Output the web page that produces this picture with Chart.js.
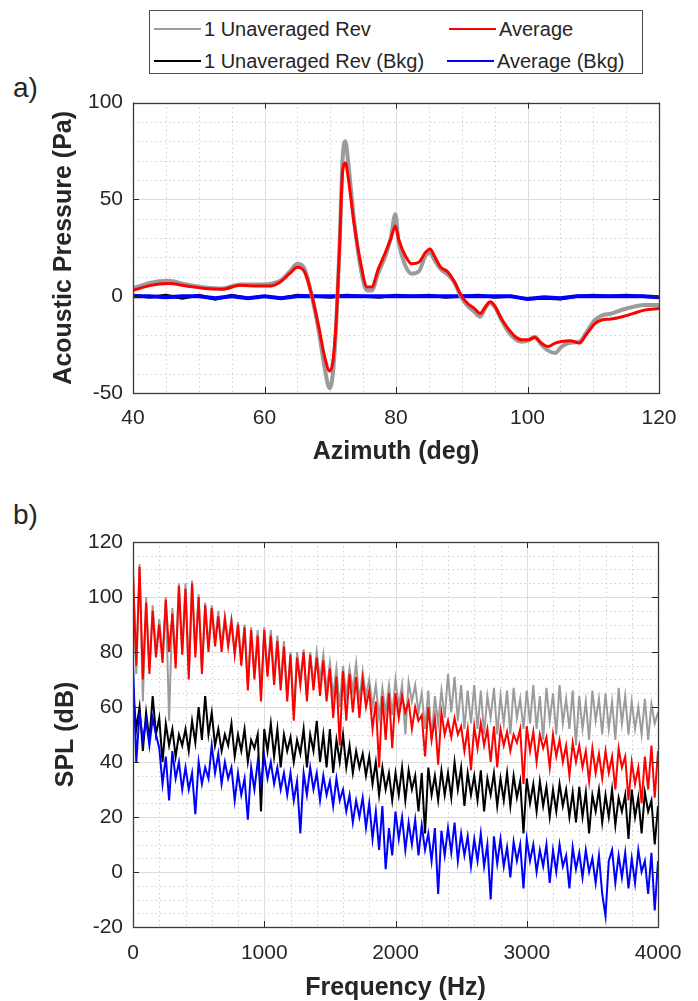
<!DOCTYPE html>
<html>
<head>
<meta charset="utf-8">
<title>Acoustic pressure and SPL</title>
<script src="https://cdn.jsdelivr.net/npm/chart.js@4.4.1/dist/chart.umd.min.js"></script>
<style>
  html, body { margin: 0; padding: 0; background: #fff; }
  body {
    width: 698px; height: 1001px; position: relative; overflow: hidden;
    font-family: "Liberation Sans", Arial, sans-serif; color: #262626;
  }
  canvas { position: absolute; left: 0; }
  #chart-a { top: 80px; }
  #chart-b { top: 480px; }
  .tag { position: absolute; left: 13px; font-size: 28px; line-height: 28px; }
  #legend {
    position: absolute; left: 149px; top: 10px; width: 494px; height: 64px;
    box-sizing: border-box; border: 1.5px solid #4d4d4d; background: #fff;
  }
  .entry {
    position: absolute; height: 22px; display: flex; align-items: center;
    font-size: 20px; white-space: nowrap;
  }
  .entry i { display: inline-block; width: 47px; height: 2px; margin-right: 3px; }
</style>
</head>
<body>
<div id="legend"></div>
<div class="tag" style="top:74px">a)</div>
<div class="tag" style="top:501px">b)</div>
<canvas id="chart-a" width="698" height="400"></canvas>
<canvas id="chart-b" width="698" height="521"></canvas>

<script>
'use strict';

// ── Series labels / colours ───────────────────────────────────
const seriesLabels = ['1 Unaveraged Rev', 'Average', '1 Unaveraged Rev (Bkg)', 'Average (Bkg)'];
const seriesColors = ['#9b9b9b', '#ff0000', '#000000', '#0000ff'];

// ── a) Acoustic pressure vs azimuth ───────────────────────────
const azimuthTicks  = [40, 60, 80, 100, 120];
const pressureTicks = [-50, 0, 50, 100];

const azimuthRev = [40, 42.7, 45.4, 48.1, 50.9, 53.6, 56.3, 59, 61, 62.4,
  63.8, 65, 66.1, 67.2, 68.2, 69.2, 69.9, 70.4, 70.9, 71.4,
  71.9, 72.3, 72.7, 73.6, 74.6, 75.6, 76.3, 77.3, 78.4, 79.2,
  79.9, 80.4, 81.4, 82.4, 83.5, 84.5, 85.2, 85.8, 86.8, 87.9,
  88.9, 89.9, 90.9, 91.9, 92.8, 93.6, 94.3, 95, 96, 97,
  98.1, 99.1, 100.1, 101.1, 102.1, 103.1, 104.2, 105.2, 106.5, 107.9,
  108.9, 110.3, 111.3, 112.7, 114.4, 116.1, 117.8, 120];

const pressureAvg = [3, 5.6, 6.5, 5.3, 4, 3.6, 5.6, 5.3, 5.3, 7.3,
  11.6, 15, 12.5, 0.5, -15, -32, -38.7, -33.6, -13, 24,
  65, 68.8, 62, 38, 17.6, 4.8, 4.8, 14, 22.7, 29.5,
  36.3, 29.5, 21, 16.7, 17.6, 22.7, 24.4, 21, 15, 12.5,
  7.3, 0.5, -3.8, -6.3, -8.9, -5.5, -2.9, -4.9, -11.4, -16.5,
  -20.8, -22.5, -22.5, -21.3, -24.2, -26, -24.2, -23.4, -23, -24.2,
  -20, -14, -12.3, -11.8, -10.6, -8.9, -7.2, -6.3];

const pressureUnavg = [4, 7, 8, 6, 4.5, 4, 6, 6, 6.5, 8,
  12.5, 16.7, 14, 0, -17, -38, -47.5, -40, -15, 25,
  72, 80, 70, 40, 15, 3, 3, 12, 21, 30,
  42.3, 28, 16, 11.6, 13, 21, 22.5, 19, 14, 11,
  7, -0.5, -5, -8, -10.6, -6, -3.5, -5.5, -12, -18,
  -22, -23.5, -23, -21, -25, -28, -29.3, -26, -24, -23.5,
  -19, -12, -10, -9, -7, -5.5, -4.5, -4.6];

const azimuthBkg = [40, 42.5, 45, 47.5, 50, 52.5, 55, 57.5, 60, 62.5,
  65, 67.5, 70, 72.5, 75, 77.5, 80, 82.5, 85, 87.5,
  90, 92.5, 95, 97.5, 100, 102.5, 105, 107.5, 110, 112.5,
  115, 117.5, 120];

const pressureAvgBkg = [0, 0, -0.5, 0, 0, -1, 0, -1, 0, -1,
  0, 0, 0, 0, 0, 0, 0, 0, 0, 0,
  0, 0, 0, 0, -1.5, -0.5, -1, 0, 0, 0,
  0, 0, -0.5];

const pressureUnavgBkg = [0.5, -0.5, 0.5, -1, 0.5, -1.5, 0.5, -1, 0, -1,
  0.5, 0, -0.5, 0.5, 0, -0.5, 0.5, 0, 0.5, -0.5,
  0, 0.5, -0.5, 0, -1.5, -1, -1.5, 0, 0.5, 0,
  0.5, 0, -0.5];

// ── b) SPL spectrum (25 Hz bins, 0–4000 Hz) ──────────────────
const freqTicks = [0, 1000, 2000, 3000, 4000];
const splTicks  = [-20, 0, 20, 40, 60, 80, 100, 120];
const FREQ_STEP = 25;

const splAvgRev = [
  108, 75, 111, 70, 98, 72, 95, 78,
  90, 76, 99, 80, 94, 74, 104, 79,
  103, 70, 105, 78, 100, 72, 97, 80,
  96, 82, 93, 80, 92, 82, 91, 79,
  90, 75, 89, 66, 88, 70, 86, 62,
  88, 71, 86, 68, 84, 66, 82, 62,
  79, 55, 78, 68, 80, 62, 79, 66,
  78, 64, 77, 62, 74, 56, 71, 46,
  73, 55, 72, 58, 71, 56, 70, 60,
  66, 52, 62, 38, 64, 48, 65, 45,
  65, 56, 64, 58, 62, 52, 60, 55,
  57, 42, 60, 48, 56, 39, 58, 50,
  55, 49, 56, 50, 53, 44, 52, 37,
  53, 45, 54, 46, 52, 40, 53, 38,
  52, 46, 51, 44, 50, 47, 52, 32,
  53, 44, 51, 40, 50, 45, 49, 38,
  50, 42, 48, 40, 46, 35, 47, 40,
  46, 38, 44, 33, 45, 36, 43, 34,
  44, 36, 42, 30, 45, 38, 42, 26,
  40, 32, 38, 25, 42, 30, 46, 27,
  44];

const splUnavgRev = [
  110, 72, 112, 62, 100, 74, 97, 80,
  92, 78, 100, 55, 96, 76, 105, 80,
  105, 72, 106, 80, 101, 74, 98, 82,
  97, 84, 95, 82, 93, 84, 92, 80,
  91, 77, 90, 68, 89, 72, 88, 64,
  89, 72, 88, 70, 86, 68, 84, 64,
  80, 58, 80, 70, 81, 64, 80, 68,
  80, 70, 79, 66, 76, 64, 74, 60,
  75, 64, 74, 66, 76, 62, 73, 64,
  70, 60, 68, 56, 67, 58, 68, 57,
  70, 60, 68, 50, 69, 62, 68, 58,
  65, 52, 66, 48, 64, 54, 66, 56,
  72, 58, 71, 55, 68, 52, 66, 54,
  68, 52, 66, 50, 64, 56, 67, 50,
  64, 54, 66, 50, 67, 56, 63, 52,
  66, 54, 68, 52, 64, 48, 67, 55,
  65, 50, 68, 54, 63, 52, 66, 46,
  64, 52, 62, 48, 66, 55, 63, 50,
  65, 52, 62, 48, 67, 54, 64, 50,
  62, 52, 60, 50, 63, 48, 61, 54,
  58];

const splUnavgBkg = [
  66, 52, 60, 44, 58, 48, 64, 50,
  56, 40, 54, 46, 52, 42, 50, 46,
  52, 44, 55, 47, 60, 48, 64, 50,
  58, 46, 52, 44, 50, 46, 54, 42,
  50, 44, 52, 40, 48, 45, 50, 22,
  52, 44, 54, 42, 52, 38, 50, 44,
  49, 40, 48, 43, 52, 38, 50, 44,
  55, 40, 50, 38, 52, 36, 48, 40,
  50, 38, 46, 36, 44, 38, 43, 35,
  42, 32, 40, 28, 38, 30, 36, 26,
  36, 28, 38, 26, 37, 30, 35, 22,
  36, 14, 38, 28, 35, 26, 37, 28,
  36, 27, 40, 30, 38, 24, 36, 28,
  35, 26, 37, 22, 34, 28, 36, 24,
  34, 26, 36, 24, 35, 27, 33, 14,
  34, 25, 32, 22, 33, 24, 31, 20,
  30, 22, 32, 24, 30, 20, 29, 18,
  31, 20, 29, 14, 28, 22, 30, 18,
  28, 20, 30, 17, 27, 22, 28, 12,
  30, 20, 27, 14, 29, 22, 26, 10,
  24];

const splAvgBkg = [
  76, 40, 58, 48, 55, 46, 56, 50,
  45, 32, 42, 26, 44, 34, 40, 30,
  38, 30, 36, 21, 40, 32, 38, 34,
  46, 36, 43, 32, 40, 34, 38, 26,
  36, 28, 34, 19, 38, 30, 40, 32,
  42, 34, 40, 32, 38, 30, 36, 28,
  36, 26, 33, 14, 36, 28, 38, 30,
  36, 26, 35, 28, 33, 24, 34, 26,
  30, 22, 28, 18, 26, 20, 27, 16,
  25, 12, 22, 8, 24, 1, 16, 6,
  22, 12, 20, 8, 18, 10, 19, 6,
  17, 8, 14, 4, 16, -8, 15, 6,
  16, 7, 18, 4, 14, 6, 13, 2,
  12, 4, 14, 2, 10, -10, 13, 3,
  12, 2, 9, -2, 11, 4, 10, -6,
  12, 4, 10, 0, 8, 2, 10, -4,
  8, 0, 10, 2, 6, -6, 9, 1,
  7, -2, 8, 0, 5, -4, 6, -8,
  -16, 4, 8, -4, 6, -2, 7, -6,
  5, -4, 8, 0, 4, -8, 7, -14,
  4];

// ── Helpers ───────────────────────────────────────────────────
const FONT = '"Liberation Sans", Arial, sans-serif';
const INK  = '#262626';

const toPoints = (xs, ys) => ys.map((y, i) => ({ x: xs[i], y }));
const freqBins = splAvgRev.map((_, i) => i * FREQ_STEP);

function minorValues(min, max, step, majors) {
  const out = [];
  for (let v = min; v <= max + 1e-9; v += step) {
    if (!majors.includes(v)) out.push(v);
  }
  return out;
}

// ── MATLAB-like grid, box and inward ticks ───────────────────
const matlabAxes = {
  id: 'matlabAxes',
  beforeDatasetsDraw(chart, args, o) {
    const { ctx, chartArea: a } = chart;
    const sx = chart.scales.x, sy = chart.scales.y;
    const vLines = vals => vals.forEach(v => {
      const p = Math.round(sx.getPixelForValue(v)) + 0.5;
      ctx.moveTo(p, a.top); ctx.lineTo(p, a.bottom);
    });
    const hLines = vals => vals.forEach(v => {
      const p = Math.round(sy.getPixelForValue(v)) + 0.5;
      ctx.moveTo(a.left, p); ctx.lineTo(a.right, p);
    });
    ctx.save();
    ctx.lineWidth = 1;
    ctx.strokeStyle = '#d0d0d0';
    ctx.setLineDash([1.5, 3]);
    ctx.beginPath(); vLines(o.xMinor); hLines(o.yMinor); ctx.stroke();
    ctx.setLineDash([]);
    ctx.strokeStyle = '#dcdcdc';
    ctx.beginPath(); vLines(o.xMajor); hLines(o.yMajor); ctx.stroke();
    ctx.restore();
  },
  afterDatasetsDraw(chart, args, o) {
    const { ctx, chartArea: a } = chart;
    const sx = chart.scales.x, sy = chart.scales.y;
    const t = 6;
    ctx.save();
    ctx.strokeStyle = INK;
    ctx.lineWidth = 1;
    ctx.beginPath();
    o.xMajor.forEach(v => {
      const p = Math.round(sx.getPixelForValue(v)) + 0.5;
      ctx.moveTo(p, a.bottom); ctx.lineTo(p, a.bottom - t);
      ctx.moveTo(p, a.top);    ctx.lineTo(p, a.top + t);
    });
    o.yMajor.forEach(v => {
      const p = Math.round(sy.getPixelForValue(v)) + 0.5;
      ctx.moveTo(a.left, p);  ctx.lineTo(a.left + t, p);
      ctx.moveTo(a.right, p); ctx.lineTo(a.right - t, p);
    });
    ctx.stroke();
    ctx.lineWidth = 1.3;
    ctx.strokeStyle = '#3a3a3a';
    ctx.strokeRect(Math.round(a.left) + 0.5, Math.round(a.top) + 0.5,
                   Math.round(a.right - a.left), Math.round(a.bottom - a.top));
    ctx.restore();
  }
};

function axisConfig(ticks, min, max, pad, extra) {
  return Object.assign({
    type: 'linear', min, max,
    afterBuildTicks: ax => { ax.ticks = ticks.map(v => ({ value: v })); },
    grid: { display: false, drawTicks: false },
    border: { display: false },
    ticks: {
      color: INK, font: { family: FONT, size: 21 }, padding: pad,
      maxRotation: 0, autoSkip: false, callback: v => String(v)
    }
  }, extra);
}

function titleConfig(text, padding) {
  return { display: true, text, color: INK, padding,
           font: { family: FONT, size: 25, weight: 'bold', lineHeight: 1 } };
}

function lineSet(idx, points, width, order, smooth) {
  return {
    label: seriesLabels[idx], data: points, order,
    borderColor: seriesColors[idx], backgroundColor: seriesColors[idx],
    borderWidth: width, pointRadius: 0, fill: false,
    cubicInterpolationMode: smooth ? 'monotone' : 'default', tension: 0
  };
}

const baseOptions = {
  responsive: false,
  animation: false,
  events: [],
  plugins: { legend: { display: false }, tooltip: { enabled: false } }
};

// ── Chart a ───────────────────────────────────────────────────
new Chart(document.getElementById('chart-a'), {
  type: 'line',
  plugins: [matlabAxes],
  data: {
    datasets: [
      lineSet(0, toPoints(azimuthRev, pressureUnavg), 4, 2, true),
      lineSet(1, toPoints(azimuthRev, pressureAvg), 3, 1, true),
      lineSet(2, toPoints(azimuthBkg, pressureUnavgBkg), 3, 4, false),
      lineSet(3, toPoints(azimuthBkg, pressureAvgBkg), 4, 3, false)
    ]
  },
  options: Object.assign({}, baseOptions, {
    layout: { padding: { top: 17, right: 39, left: 0, bottom: 0 } },
    plugins: Object.assign({}, baseOptions.plugins, {
      matlabAxes: {
        xMajor: azimuthTicks, xMinor: minorValues(40, 120, 5, azimuthTicks),
        yMajor: pressureTicks, yMinor: minorValues(-50, 100, 10, pressureTicks)
      }
    }),
    scales: {
      x: axisConfig(azimuthTicks, 40, 120, 13, {
        afterFit: ax => { ax.height = 87; },
        title: titleConfig('Azimuth (deg)', { top: 0, bottom: 15 })
      }),
      y: axisConfig(pressureTicks, -50, 100, 10, {
        afterFit: ax => { ax.width = 133; },
        title: titleConfig('Acoustic Pressure (Pa)', { top: 52, bottom: 0 })
      })
    }
  })
});

// ── Chart b ───────────────────────────────────────────────────
new Chart(document.getElementById('chart-b'), {
  type: 'line',
  plugins: [matlabAxes],
  data: {
    datasets: [
      lineSet(0, toPoints(freqBins, splUnavgRev), 2, 4, false),
      lineSet(1, toPoints(freqBins, splAvgRev), 2, 3, false),
      lineSet(2, toPoints(freqBins, splUnavgBkg), 2, 2, false),
      lineSet(3, toPoints(freqBins, splAvgBkg), 2, 1, false)
    ]
  },
  options: Object.assign({}, baseOptions, {
    layout: { padding: { top: 62, right: 40, left: 0, bottom: 0 } },
    plugins: Object.assign({}, baseOptions.plugins, {
      matlabAxes: {
        xMajor: freqTicks, xMinor: minorValues(0, 4000, 200, freqTicks),
        yMajor: splTicks, yMinor: minorValues(-20, 120, 5, splTicks)
      }
    }),
    scales: {
      x: axisConfig(freqTicks, 0, 4000, 14, {
        afterFit: ax => { ax.height = 74; },
        title: titleConfig('Frequency (Hz)', { top: 0, bottom: 0 })
      }),
      y: axisConfig(splTicks, -20, 120, 10, {
        afterFit: ax => { ax.width = 133; },
        title: titleConfig('SPL (dB)', { top: 54, bottom: 0 })
      })
    }
  })
});

// ── Shared legend (2 x 2) ─────────────────────────────────────
const legendSlots = [
  { idx: 0, left: 4,   top: 7 },
  { idx: 1, left: 299, top: 7 },
  { idx: 2, left: 4,   top: 39 },
  { idx: 3, left: 297, top: 39 }
];
const legendBox = document.getElementById('legend');
legendSlots.forEach(s => {
  legendBox.insertAdjacentHTML('beforeend',
    `<div class="entry" style="left:${s.left}px;top:${s.top}px">` +
    `<i style="background:${seriesColors[s.idx]}"></i>${seriesLabels[s.idx]}</div>`);
});
</script>
</body>
</html>
